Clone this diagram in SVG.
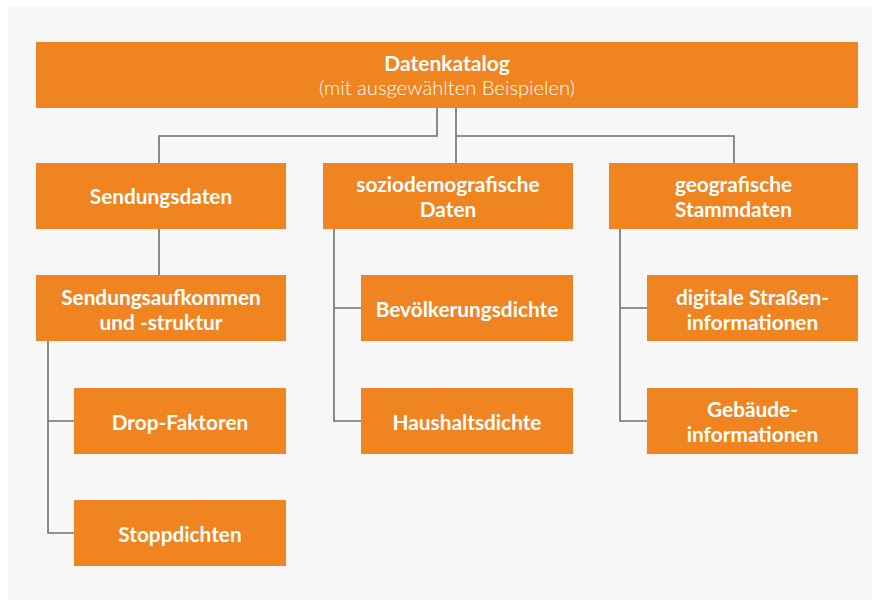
<svg xmlns="http://www.w3.org/2000/svg" width="872" height="600" viewBox="0 0 872 600">
<style>
.box{fill:#EF8421}
.t{fill:#fff;font-family:Lato,"Open Sans","Liberation Sans",sans-serif;font-weight:700;font-size:20.8px;text-anchor:middle}
.h{font-size:21px}
.sub{font-weight:300;font-size:20.2px}
.c{fill:none;stroke:#707070;stroke-width:1.6}
</style>
<rect x="0" y="0" width="872" height="600" fill="#fff"/>
<rect x="8" y="7" width="864" height="593" fill="#F7F7F7"/>
<g id="connectors">
<path class="c" d="M437,108 V136 H159 V163"/>
<path class="c" d="M456,108 V163 M456,136 H734 V163"/>
<path class="c" d="M159,229 V275"/>
<path class="c" d="M48,341 V533 H74 M48,421 H74"/>
<path class="c" d="M334,229 V421 H361 M334,308 H361"/>
<path class="c" d="M620,229 V421 H647 M620,308 H647"/>
</g>
<g id="datenkatalog"><rect class="box" x="36" y="42" width="822" height="66"/>
<text class="t h" x="447" y="71">Datenkatalog</text>
<text class="t sub" x="447" y="95">(mit ausgewählten Beispielen)</text></g>
<g id="sendungsdaten"><rect class="box" x="36" y="163" width="250" height="66"/>
<text class="t" x="161" y="204">Sendungsdaten</text></g>
<g id="sozio"><rect class="box" x="323" y="163" width="250" height="66"/>
<text class="t" x="448" y="192">soziodemografische</text>
<text class="t" x="448" y="217">Daten</text></g>
<g id="geo"><rect class="box" x="609" y="163" width="249" height="66"/>
<text class="t" x="733.5" y="192">geografische</text>
<text class="t" x="733.5" y="217">Stammdaten</text></g>
<g id="aufkommen"><rect class="box" x="36" y="275" width="250" height="66"/>
<text class="t" x="161" y="305">Sendungsaufkommen</text>
<text class="t" x="161" y="330">und -struktur</text></g>
<g id="bevoelkerung"><rect class="box" x="361" y="275" width="212" height="66"/>
<text class="t" x="467" y="316.5">Bevölkerungsdichte</text></g>
<g id="strassen"><rect class="box" x="647" y="275" width="211" height="66"/>
<text class="t" x="752.5" y="305">digitale Straßen-</text>
<text class="t" x="752.5" y="330">informationen</text></g>
<g id="drop"><rect class="box" x="74" y="388" width="212" height="66"/>
<text class="t" x="180" y="429.5">Drop-Faktoren</text></g>
<g id="haushalt"><rect class="box" x="361" y="388" width="212" height="66"/>
<text class="t" x="467" y="429.5">Haushaltsdichte</text></g>
<g id="gebaeude"><rect class="box" x="647" y="388" width="211" height="66"/>
<text class="t" x="752.5" y="417">Gebäude-</text>
<text class="t" x="752.5" y="442">informationen</text></g>
<g id="stopp"><rect class="box" x="74" y="500" width="212" height="66"/>
<text class="t" x="180" y="541.5">Stoppdichten</text></g>
</svg>
